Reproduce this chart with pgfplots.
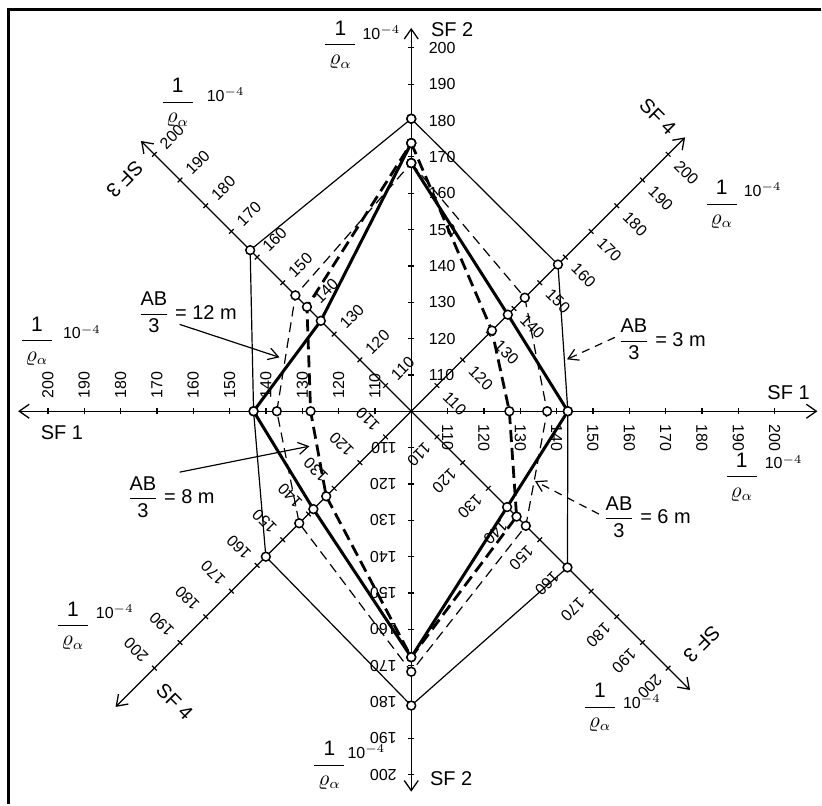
\documentclass[border=0pt]{standalone}
\usepackage{amsmath}
\usepackage{fontspec}
\setmainfont{Liberation Sans}
\usepackage{pgfplots}
\usepackage{pgfplotstable}
\pgfplotsset{compat=1.18}
\usetikzlibrary{arrows.meta}

% px per unit of 1/rho_a (100 at the centre)
\def\kpx{3.64}
\newcommand\tkf{\fontsize{8}{9}\selectfont}
\newcommand\lbf{\fontsize{10}{11}\selectfont}
\newcommand\frf{\fontsize{10.5}{12}\selectfont}

\pgfplotstableread{
v lab
110 110
120 120
130 130
140 140
150 150
160 160
170 170
180 180
190 190
200 200
}\ticks

% AB/3 = 3 m
\pgfplotstableread{
a v
90 180.5
45 157.1
0 143.1
-45 160.8
-90 181.0
-135 156.6
180 143.4
135 162.7
90 180.5
}\polyA

% AB/3 = 12 m
\pgfplotstableread{
a v
90 168.3
45 137.6
0 143.1
-45 137.3
-90 167.7
-135 138.1
180 143.4
135 135.2
90 173.8
}\polyB

% AB/3 = 8 m
\pgfplotstableread{
a v
90 173.8
45 131.4
0 127.0
-45 141.0
-90 167.7
-135 133.1
180 127.7
135 140.6
90 173.8
}\polyC

% AB/3 = 6 m
\pgfplotstableread{
a v
90 168.3
45 144.2
0 137.4
-45 144.6
-90 171.7
-135 143.6
180 137.0
135 145.1
90 168.3
}\polyD

\newcommand\tickaxis[2]{%
  \addplot[pol, only marks, mark=|, mark size=1.6pt,
    mark options={rotate=#1, line width=0.6pt},
    nodes near coords, point meta=explicit symbolic,
    nodes near coords style={rotate=#1-90, anchor=west, inner xsep=#2,
      inner ysep=0pt, font=\tkf}]
    table[x expr=#1, y expr=(\thisrow{v}-100)*\kpx, meta=lab] {\ticks};}

\newcommand\invrho{$\dfrac{\text{1}}{\,\varrho_{\alpha}\,}$}
\newcommand\tenm{10$^{-4}$}

\begin{document}
\begin{tikzpicture}
\begin{axis}[
  width=411pt, height=402.5pt, scale only axis,
  xmin=-412, xmax=410, ymin=-393, ymax=412,
  hide axis, clip=false,
  pol/.style={data cs=polar},
  axl/.style={line width=0.65pt, black,
    {Straight Barb[length=5pt,width=7pt]}-{Straight Barb[length=5pt,width=7pt]}},
  circ/.style={pol, only marks, mark=*, mark size=2.2pt,
    mark options={solid, fill=white, draw=black, line width=0.75pt}},
]
\path (axis cs:-412,-393) rectangle (axis cs:410,412);
% frame
\draw[line width=1.5pt] (axis cs:-403,-393) -- (axis cs:-403,402) -- (axis cs:410,402);

% axes SF1 ... SF4
\addplot[pol, axl] table[x=a, y expr=(\thisrow{v}-100)*\kpx] {
a v
180 208.2
0 211.8
};
\addplot[pol, axl] table[x=a, y expr=(\thisrow{v}-100)*\kpx] {
a v
-90 204.7
90 205.5
};
\addplot[pol, axl] table[x=a, y expr=(\thisrow{v}-100)*\kpx] {
a v
-45 208.5
135 205.2
};
\addplot[pol, axl] table[x=a, y expr=(\thisrow{v}-100)*\kpx] {
a v
-135 215.1
45 206.6
};

\tickaxis{0}{6.5pt}
\tickaxis{45}{6pt}
\tickaxis{90}{8.5pt}
\tickaxis{135}{5.5pt}
\tickaxis{180}{6pt}
\tickaxis{-135}{6pt}
\tickaxis{-90}{7pt}
\tickaxis{-45}{6pt}

% curves
\addplot[pol, no marks, line width=0.6pt] table[x=a, y expr=(\thisrow{v}-100)*\kpx] {\polyA};
\addplot[pol, no marks, line width=1.5pt] table[x=a, y expr=(\thisrow{v}-100)*\kpx] {\polyB};
\addplot[pol, no marks, line width=1.4pt, dash pattern=on 6pt off 3pt] table[x=a, y expr=(\thisrow{v}-100)*\kpx] {\polyC};
\addplot[pol, no marks, line width=0.6pt, dash pattern=on 5pt off 3pt] table[x=a, y expr=(\thisrow{v}-100)*\kpx] {\polyD};
\addplot[circ] table[x=a, y expr=(\thisrow{v}-100)*\kpx] {\polyA};
\addplot[circ] table[x=a, y expr=(\thisrow{v}-100)*\kpx] {\polyB};
\addplot[circ] table[x=a, y expr=(\thisrow{v}-100)*\kpx] {\polyC};
\addplot[circ] table[x=a, y expr=(\thisrow{v}-100)*\kpx] {\polyD};

% axis names
\node[font=\lbf] at (axis cs:41,382) {SF 2};
\node[font=\lbf] at (axis cs:40,-368) {SF 2};
\node[font=\lbf] at (axis cs:378,19) {SF 1};
\node[font=\lbf] at (axis cs:-350,-21) {SF 1};
\node[font=\lbf, rotate=225] at (axis cs:-287,232) {SF 3};
\node[font=\lbf, rotate=225] at (axis cs:291,-233) {SF 3};
\node[font=\lbf, rotate=-45] at (axis cs:247,295) {SF 4};
\node[font=\lbf, rotate=-45] at (axis cs:-237,-291) {SF 4};

% 1/rho_a 10^-4
\node[font=\frf] at (axis cs:-71,367) {\invrho};
\node[font=\tkf] at (axis cs:-30,379) {\tenm};
\node[font=\frf] at (axis cs:-234,309) {\invrho};
\node[font=\tkf] at (axis cs:-186,317) {\tenm};
\node[font=\frf] at (axis cs:-375,70) {\invrho};
\node[font=\tkf] at (axis cs:-330,79) {\tenm};
\node[font=\frf] at (axis cs:311,207) {\invrho};
\node[font=\tkf] at (axis cs:352,222) {\tenm};
\node[font=\frf] at (axis cs:331,-66) {\invrho};
\node[font=\tkf] at (axis cs:373,-51) {\tenm};
\node[font=\frf] at (axis cs:-339,-215) {\invrho};
\node[font=\tkf] at (axis cs:-297,-201) {\tenm};
\node[font=\frf] at (axis cs:189,-297) {\invrho};
\node[font=\tkf] at (axis cs:231,-291) {\tenm};
\node[font=\frf] at (axis cs:-82,-355) {\invrho};
\node[font=\tkf] at (axis cs:-45,-341) {\tenm};

% AB/3 labels and leaders
\node[font=\lbf, anchor=west, inner sep=0pt] at (axis cs:-274,99) {$\dfrac{\text{AB}}{\text{3}}$ = 12 m};
\node[font=\lbf, anchor=west, inner sep=0pt] at (axis cs:-285,-86) {$\dfrac{\text{AB}}{\text{3}}$ = 8 m};
\node[font=\lbf, anchor=west, inner sep=0pt] at (axis cs:207,72) {$\dfrac{\text{AB}}{\text{3}}$ = 3 m};
\node[font=\lbf, anchor=west, inner sep=0pt] at (axis cs:192,-106) {$\dfrac{\text{AB}}{\text{3}}$ = 6 m};
\draw[line width=0.6pt, -{Straight Barb[length=5pt,width=6pt]}] (axis cs:-232,87) -- (axis cs:-132,54);
\draw[line width=0.6pt, -{Straight Barb[length=5pt,width=6pt]}] (axis cs:-232,-61) -- (axis cs:-102,-35);
\draw[line width=0.6pt, dash pattern=on 4pt off 3pt, -{Straight Barb[length=5pt,width=6pt]}] (axis cs:204,74) -- (axis cs:156,52);
\draw[line width=0.6pt, dash pattern=on 4pt off 3pt, -{Straight Barb[length=5pt,width=6pt]}] (axis cs:188,-103) -- (axis cs:124,-70);
\end{axis}
\end{tikzpicture}
\end{document}
